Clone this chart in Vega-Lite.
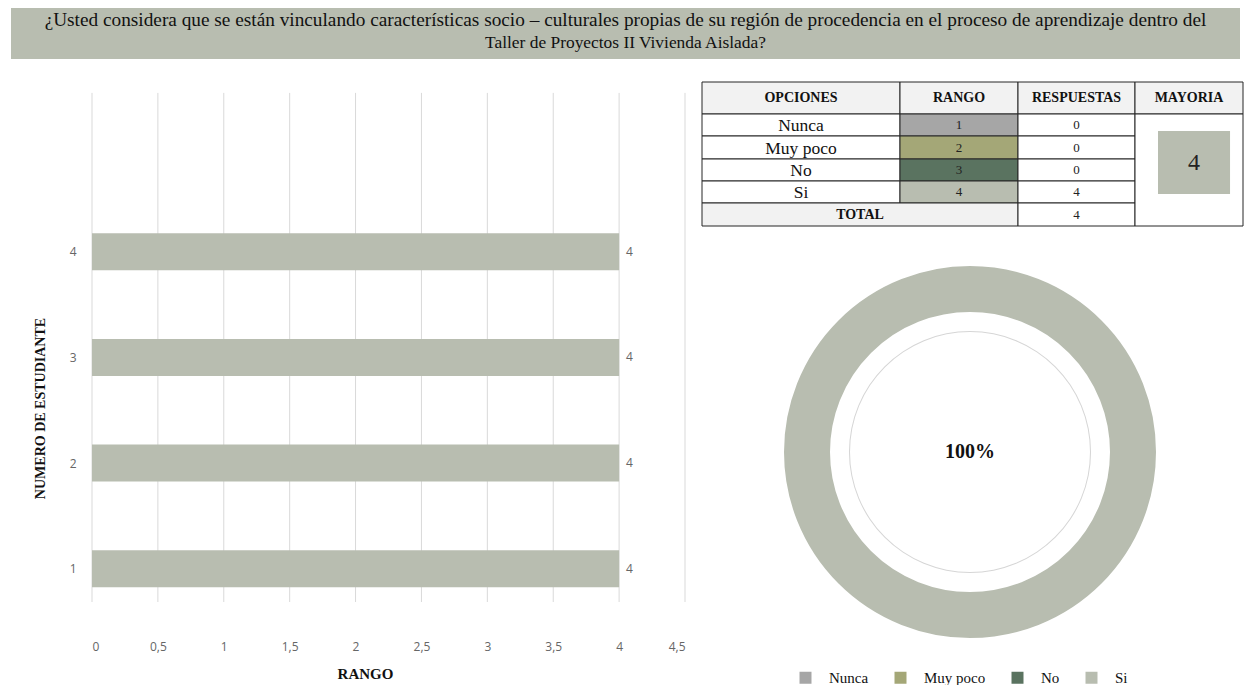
{
  "$schema": "https://vega.github.io/schema/vega-lite/v6.json",
  "padding": {"left": 11, "top": 8, "right": 0, "bottom": 0},
  "background": "white",
  "config": {"view": {"stroke": null}, "font": "Liberation Serif"},
  "datasets": {
    "pregunta": [
      {"linea": 1, "texto": "¿Usted considera que se están vinculando características socio – culturales propias de su región de procedencia en el proceso de aprendizaje dentro del"},
      {"linea": 2, "texto": "Taller de Proyectos II Vivienda Aislada?"}
    ],
    "estudiantes": [
      {"estudiante": 1, "rango": 4},
      {"estudiante": 2, "rango": 4},
      {"estudiante": 3, "rango": 4},
      {"estudiante": 4, "rango": 4}
    ],
    "grilla": [
      {"valor": 0}, {"valor": 0.5}, {"valor": 1}, {"valor": 1.5}, {"valor": 2},
      {"valor": 2.5}, {"valor": 3}, {"valor": 3.5}, {"valor": 4}, {"valor": 4.5}
    ],
    "opciones": [
      {"opcion": "Nunca", "rango": 1, "respuestas": 0, "porcentaje": "0%"},
      {"opcion": "Muy poco", "rango": 2, "respuestas": 0, "porcentaje": "0%"},
      {"opcion": "No", "rango": 3, "respuestas": 0, "porcentaje": "0%"},
      {"opcion": "Si", "rango": 4, "respuestas": 4, "porcentaje": "100%"}
    ],
    "tabla": [
      {"c0": 0, "c1": 1, "cx": 0.5, "r0": 0, "r1": 1, "cy": 0.5, "texto": "OPCIONES", "tipo": "encabezado", "rol": "encabezado"},
      {"c0": 1, "c1": 2, "cx": 1.5, "r0": 0, "r1": 1, "cy": 0.5, "texto": "RANGO", "tipo": "encabezado", "rol": "encabezado"},
      {"c0": 2, "c1": 3, "cx": 2.5, "r0": 0, "r1": 1, "cy": 0.5, "texto": "RESPUESTAS", "tipo": "encabezado", "rol": "encabezado"},
      {"c0": 3, "c1": 4, "cx": 3.5, "r0": 0, "r1": 1, "cy": 0.5, "texto": "MAYORIA", "tipo": "encabezado", "rol": "encabezado"},
      {"c0": 0, "c1": 1, "cx": 0.5, "r0": 1, "r1": 2, "cy": 1.5, "texto": "Nunca", "tipo": "cuerpo", "rol": "opcion"},
      {"c0": 1, "c1": 2, "cx": 1.5, "r0": 1, "r1": 2, "cy": 1.5, "texto": "1", "tipo": "Nunca", "rol": "numero"},
      {"c0": 2, "c1": 3, "cx": 2.5, "r0": 1, "r1": 2, "cy": 1.5, "texto": "0", "tipo": "cuerpo", "rol": "numero"},
      {"c0": 0, "c1": 1, "cx": 0.5, "r0": 2, "r1": 3, "cy": 2.5, "texto": "Muy poco", "tipo": "cuerpo", "rol": "opcion"},
      {"c0": 1, "c1": 2, "cx": 1.5, "r0": 2, "r1": 3, "cy": 2.5, "texto": "2", "tipo": "Muy poco", "rol": "numero"},
      {"c0": 2, "c1": 3, "cx": 2.5, "r0": 2, "r1": 3, "cy": 2.5, "texto": "0", "tipo": "cuerpo", "rol": "numero"},
      {"c0": 0, "c1": 1, "cx": 0.5, "r0": 3, "r1": 4, "cy": 3.5, "texto": "No", "tipo": "cuerpo", "rol": "opcion"},
      {"c0": 1, "c1": 2, "cx": 1.5, "r0": 3, "r1": 4, "cy": 3.5, "texto": "3", "tipo": "No", "rol": "numero"},
      {"c0": 2, "c1": 3, "cx": 2.5, "r0": 3, "r1": 4, "cy": 3.5, "texto": "0", "tipo": "cuerpo", "rol": "numero"},
      {"c0": 0, "c1": 1, "cx": 0.5, "r0": 4, "r1": 5, "cy": 4.5, "texto": "Si", "tipo": "cuerpo", "rol": "opcion"},
      {"c0": 1, "c1": 2, "cx": 1.5, "r0": 4, "r1": 5, "cy": 4.5, "texto": "4", "tipo": "Si", "rol": "numero"},
      {"c0": 2, "c1": 3, "cx": 2.5, "r0": 4, "r1": 5, "cy": 4.5, "texto": "4", "tipo": "cuerpo", "rol": "numero"},
      {"c0": 0, "c1": 2, "cx": 0.798, "r0": 5, "r1": 6, "cy": 5.5, "texto": "TOTAL", "tipo": "encabezado", "rol": "encabezado"},
      {"c0": 2, "c1": 3, "cx": 2.5, "r0": 5, "r1": 6, "cy": 5.5, "texto": "4", "tipo": "cuerpo", "rol": "numero"},
      {"c0": 3, "c1": 4, "cx": 3.5, "r0": 1, "r1": 6, "cy": 3.5, "texto": "", "tipo": "cuerpo", "rol": "celda"},
      {"c0": 3.213, "c1": 3.88, "cx": 3.546, "r0": 1.773, "r1": 4.591, "cy": 3.16, "texto": "4", "tipo": "mayoria", "rol": "mayoria"}
    ]
  },
  "resolve": {"scale": {"x": "independent", "y": "independent"}},
  "bounds": "flush",
  "spacing": 23,
  "vconcat": [
    {
      "width": 1229,
      "height": 51,
      "view": {"fill": "#b8bdb0", "stroke": null},
      "data": {"name": "pregunta"},
      "mark": {"type": "text", "font": "Liberation Serif", "color": "#111111", "align": "center", "baseline": "middle", "dy": -2},
      "encoding": {
        "y": {"field": "linea", "type": "ordinal", "scale": {"padding": 0.6}, "axis": null},
        "text": {"field": "texto", "type": "nominal"},
        "size": {"field": "linea", "type": "ordinal", "scale": {"domain": [1, 2], "range": [19.3, 17.4]}, "legend": null}
      }
    },
    {
      "hconcat": [
        {
          "width": 64,
          "height": 1,
          "data": {"values": []},
          "mark": "point"
        },
        {
          "width": 593,
          "height": 525,
          "layer": [
            {
              "data": {"name": "grilla"},
              "mark": {"type": "rule", "color": "#d9d9d9", "strokeWidth": 1},
              "encoding": {
                "x": {"field": "valor", "type": "quantitative", "scale": {"domain": [0, 4.5], "nice": false}},
                "y": {"datum": 5.5046, "type": "quantitative", "scale": {"domain": [0.6842, 5.5604], "nice": false, "zero": false}},
                "y2": {"datum": 0.6842}
              }
            },
            {
              "data": {"name": "estudiantes"},
              "mark": {"type": "bar", "orient": "horizontal", "size": 37, "color": "#b8bdb0"},
              "encoding": {
                "x": {
                  "field": "rango", "type": "quantitative",
                  "scale": {"domain": [0, 4.5], "nice": false},
                  "axis": {
                    "values": [0, 0.5, 1, 1.5, 2, 2.5, 3, 3.5, 4, 4.5],
                    "labelExpr": "replace(toString(datum.value), '.', ',')",
                    "grid": false, "domain": false, "ticks": false,
                    "labelPadding": 34, "labelFont": "Open Sans", "labelFontSize": 12, "labelColor": "#666666",
                    "title": "RANGO", "titleFont": "Liberation Serif", "titleFontWeight": "bold", "titleFontSize": 15,
                    "titleColor": "#111111", "titleX": 273, "titleY": 66, "titleBaseline": "middle", "titleAlign": "center"
                  }
                },
                "y": {
                  "field": "estudiante", "type": "quantitative",
                  "scale": {"domain": [0.6842, 5.5604], "nice": false, "zero": false},
                  "axis": {
                    "values": [1, 2, 3, 4], "format": "d",
                    "grid": false, "domain": false, "ticks": false,
                    "labelPadding": 16, "labelFont": "Open Sans", "labelFontSize": 12, "labelColor": "#666666",
                    "title": "NUMERO DE ESTUDIANTE", "titleFont": "Liberation Serif", "titleFontWeight": "bold", "titleFontSize": 14,
                    "titleColor": "#111111", "titleX": -52, "titleY": 326, "titleBaseline": "middle", "titleAlign": "center"
                  }
                }
              }
            },
            {
              "data": {"name": "estudiantes"},
              "mark": {"type": "text", "align": "left", "baseline": "middle", "dx": 7, "fontSize": 12, "font": "Open Sans", "color": "#666666"},
              "encoding": {
                "x": {"field": "rango", "type": "quantitative"},
                "y": {"field": "estudiante", "type": "quantitative"},
                "text": {"field": "rango", "type": "quantitative"}
              }
            }
          ]
        },
        {
          "vconcat": [
            {
              "width": 541,
              "height": 144,
              "data": {"name": "tabla"},
              "layer": [
                {
                  "transform": [{"filter": "datum.rol != 'mayoria'"}],
                  "mark": {"type": "rect", "stroke": "#262626", "strokeWidth": 1},
                  "encoding": {
                    "x": {"field": "c0", "type": "quantitative", "scale": {"domain": [0, 1, 2, 3, 4], "range": [0, 198, 316, 433, 541]}, "axis": null},
                    "x2": {"field": "c1"},
                    "y": {"field": "r0", "type": "quantitative", "scale": {"domain": [0, 1, 2, 3, 4, 5, 6], "range": [0, 32, 54, 77, 99, 121, 144]}, "axis": null},
                    "y2": {"field": "r1"},
                    "fill": {"field": "tipo", "type": "nominal", "legend": null,
                      "scale": {"domain": ["encabezado", "cuerpo", "Nunca", "Muy poco", "No", "Si", "mayoria"],
                                "range": ["#f2f2f2", "#ffffff", "#a6a6a6", "#a4a777", "#5a7360", "#b8bdb0", "#b8bdb0"]}}
                  }
                },
                {
                  "transform": [{"filter": "datum.rol == 'mayoria'"}],
                  "mark": {"type": "rect"},
                  "encoding": {
                    "x": {"field": "c0", "type": "quantitative"},
                    "x2": {"field": "c1"},
                    "y": {"field": "r0", "type": "quantitative"},
                    "y2": {"field": "r1"},
                    "fill": {"field": "tipo", "type": "nominal", "legend": null}
                  }
                },
                {
                  "transform": [{"filter": "datum.rol == 'encabezado'"}],
                  "mark": {"type": "text", "font": "Liberation Serif", "fontWeight": "bold", "fontSize": 14, "color": "#111111", "baseline": "middle"},
                  "encoding": {
                    "x": {"field": "cx", "type": "quantitative"},
                    "y": {"field": "cy", "type": "quantitative"},
                    "text": {"field": "texto", "type": "nominal"}
                  }
                },
                {
                  "transform": [{"filter": "datum.rol == 'opcion'"}],
                  "mark": {"type": "text", "font": "Liberation Serif", "fontSize": 17.5, "color": "#111111", "baseline": "middle", "dy": 1},
                  "encoding": {
                    "x": {"field": "cx", "type": "quantitative"},
                    "y": {"field": "cy", "type": "quantitative"},
                    "text": {"field": "texto", "type": "nominal"}
                  }
                },
                {
                  "transform": [{"filter": "datum.rol == 'numero'"}],
                  "mark": {"type": "text", "font": "Liberation Serif", "fontSize": 13, "color": "#222222", "baseline": "middle"},
                  "encoding": {
                    "x": {"field": "cx", "type": "quantitative"},
                    "y": {"field": "cy", "type": "quantitative"},
                    "text": {"field": "texto", "type": "nominal"}
                  }
                },
                {
                  "transform": [{"filter": "datum.rol == 'mayoria'"}],
                  "mark": {"type": "text", "font": "Liberation Serif", "fontSize": 24, "color": "#222222", "baseline": "middle"},
                  "encoding": {
                    "x": {"field": "cx", "type": "quantitative"},
                    "y": {"field": "cy", "type": "quantitative"},
                    "text": {"field": "texto", "type": "nominal"}
                  }
                }
              ]
            },
            {
              "width": 536,
              "height": 372,
              "data": {"name": "opciones"},
              "layer": [
                {
                  "mark": {"type": "arc", "outerRadius": 187, "innerRadius": 139, "stroke": "white", "strokeWidth": 2},
                  "encoding": {
                    "theta": {"field": "respuestas", "type": "quantitative", "stack": true},
                    "order": {"field": "rango", "type": "quantitative", "sort": "descending"},
                    "color": {
                      "field": "opcion", "type": "nominal",
                      "scale": {"domain": ["Nunca", "Muy poco", "No", "Si"], "range": ["#a6a6a6", "#a4a777", "#5a7360", "#b8bdb0"]},
                      "legend": {
                        "orient": "none", "legendX": 787, "legendY": 662, "direction": "horizontal", "title": null,
                        "symbolType": "square", "symbolSize": 144, "symbolStrokeWidth": 0, "symbolOpacity": 1,
                        "labelFont": "Liberation Serif", "labelFontSize": 15, "labelColor": "#111111",
                        "labelOffset": 16, "columnPadding": 24, "padding": 0
                      }
                    }
                  }
                },
                {
                  "transform": [{"filter": "datum.opcion == 'Si'"}],
                  "mark": {"type": "arc", "outerRadius": 121, "innerRadius": 120, "color": "#d6d6d6"},
                  "encoding": {}
                },
                {
                  "transform": [{"filter": "datum.opcion == 'Si'"}],
                  "mark": {"type": "text", "font": "Liberation Serif", "fontWeight": "bold", "fontSize": 20, "color": "#111111", "baseline": "middle"},
                  "encoding": {"text": {"field": "porcentaje", "type": "nominal"}}
                }
              ]
            }
          ],
          "spacing": 40,
          "bounds": "flush",
          "resolve": {"scale": {"x": "independent", "y": "independent"}}
        }
      ],
      "spacing": 17,
      "bounds": "flush",
      "resolve": {"scale": {"x": "independent", "y": "independent"}}
    }
  ]
}
